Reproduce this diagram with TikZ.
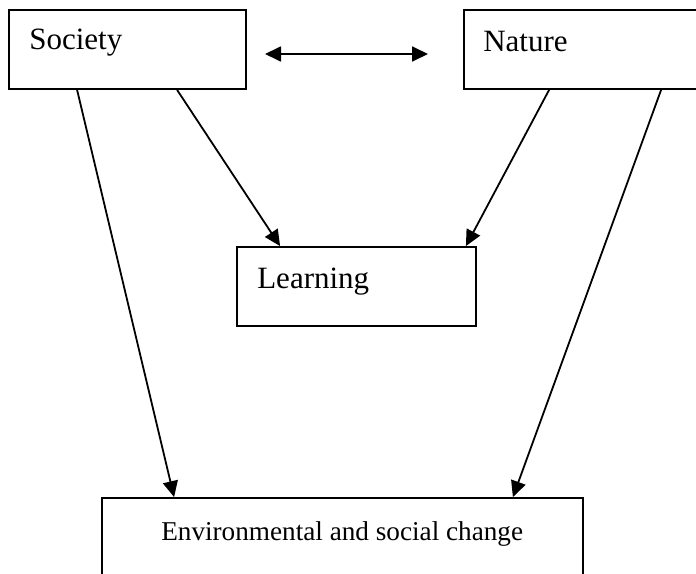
\documentclass[tikz,border=0pt]{standalone}
\usepackage{fontspec}
\setmainfont{Liberation Serif}
\usetikzlibrary{arrows.meta,positioning,calc}

\tikzset{
  box/.style={draw, line width=1.8pt, minimum width=237pt, minimum height=79pt, inner sep=0pt},
  boxtext/.style={anchor=base west, inner sep=0pt, font=\fontsize{31}{36}\selectfont},
  flow/.style={line width=1.8pt, -{Triangle[length=16pt,width=15pt]}},
}

\begin{document}
\begin{tikzpicture}[x=1pt,y=-1pt]
            \clip (0,0) rectangle (696,573);
            \node (society)  [box] at (127.5,49.5) {};
            \node (nature)   [box] at (582.5,49.5) {};
            \node (learning) [box, minimum width=239pt] at (356.5,286.5) {};
            \node (change)   [box, minimum width=481pt, minimum height=100pt] at (342.5,548) {};

            \node (soctext)   [boxtext] at ($(society.north west)+(21,40)$) {Society};
            \node (nattext)   [boxtext] at ($(nature.north west)+(20,42)$) {Nature};
            \node (learntext) [boxtext] at ($(learning.north west)+(21,42)$) {Learning};
            \node (changetext) [boxtext, font=\fontsize{27.2}{32}\selectfont] at ($(change.north west)+(60,43)$) {Environmental and social change};

            \coordinate (linkleft)  at (265,54);
            \coordinate (linkright) at (428,54);
            \draw[flow, {Triangle[length=16pt,width=15pt]}-{Triangle[length=16pt,width=15pt]}] (linkleft) -- (linkright);

            \draw[flow] ([xshift=169pt]society.south west) -- ([xshift=44pt]learning.north west);
            \draw[flow] ([xshift=86pt]nature.south west) -- ([xshift=-11pt]learning.north east);
            \draw[flow] ([xshift=69pt]society.south west) -- ([xshift=73pt]change.north west);
            \draw[flow] ([xshift=198pt]nature.south west) -- ([xshift=-71pt]change.north east);

        \end{tikzpicture}
\end{document}
